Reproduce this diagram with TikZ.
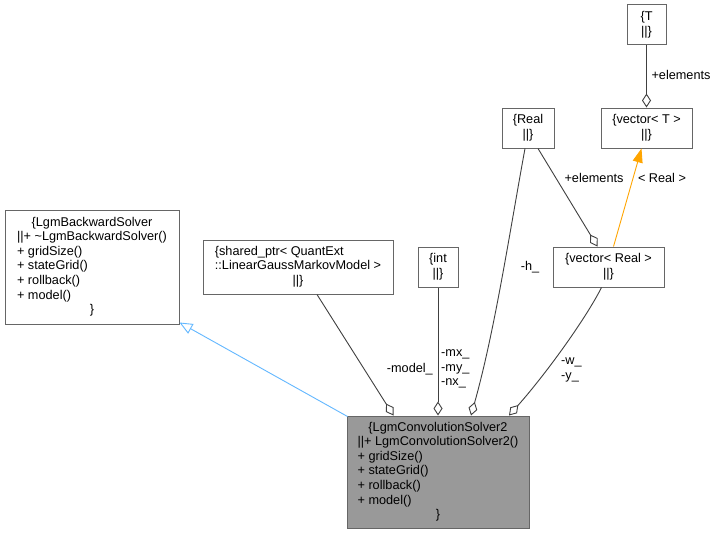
\documentclass[tikz,border=0pt]{standalone}
\usepackage{fontspec}
\setmainfont{Liberation Sans}
\usetikzlibrary{arrows.meta,calc}
\definecolor{boxline}{HTML}{666666}
\definecolor{edgeline}{HTML}{404040}
\definecolor{inhblue}{HTML}{63B8FF}
\definecolor{orangeedge}{HTML}{FFA500}
\definecolor{convfill}{HTML}{999999}
\tikzset{
  cls/.style={draw=boxline, line width=1pt, inner sep=0pt, align=center,
    font=\fontsize{12.7}{14.6}\selectfont},
  lbl/.style={inner sep=0pt, font=\fontsize{12.7}{14.6}\selectfont},
  assoc/.style={draw=edgeline, line width=0.9pt,
    -{Diamond[open,length=14pt,width=9pt,line width=0.9pt]}},
  inherit/.style={draw=inhblue, line width=0.9pt,
    -{Triangle[open,length=13pt,width=11pt,line width=0.9pt]}},
  tmpl/.style={draw=orangeedge, line width=0.9pt,
    -{Triangle[length=14pt,width=10pt]}},
}
\begin{document}
\begin{tikzpicture}[x=1pt,y=-1pt]
\useasboundingbox (0,0) rectangle (717,535);
\fill[white] (0,0) rectangle (717,535);

\node[cls, minimum width=174pt, minimum height=114pt] (back) at (92,267)
  {\begin{tabular}{@{}l@{}}\multicolumn{1}{@{}c@{}}{\{LgmBackwardSolver}\\
  {|}{|}+ \textasciitilde LgmBackwardSolver()\\ + gridSize()\\ + stateGrid()\\
  + rollback()\\ + model()\\ \multicolumn{1}{@{}c@{}}{\}}\end{tabular}};

\node[cls, minimum width=190pt, minimum height=54pt] (shared) at (298,267)
  {\begin{tabular}{@{}l@{}}\{shared\_ptr< QuantExt\\
  ::LinearGaussMarkovModel >\\ \multicolumn{1}{@{}c@{}}{{|}{|}\}}\end{tabular}};

\node[cls, minimum width=40pt, minimum height=40pt] (int) at (438,267)
  {\{int\\{|}{|}\}};

\node[cls, fill=convfill, minimum width=182pt, minimum height=112pt] (conv) at (438,472)
  {\begin{tabular}{@{}l@{}}\multicolumn{1}{@{}c@{}}{\{LgmConvolutionSolver2}\\
  {|}{|}+ LgmConvolutionSolver2()\\ + gridSize()\\ + stateGrid()\\
  + rollback()\\ + model()\\ \multicolumn{1}{@{}c@{}}{\}}\end{tabular}};

\node[cls, minimum width=52pt, minimum height=40pt] (real) at (528,128)
  {\{Real\\{|}{|}\}};

\node[cls, minimum width=91pt, minimum height=40pt] (vecT) at (646.5,128)
  {\{vector< T >\\{|}{|}\}};

\node[cls, minimum width=39pt, minimum height=40pt] (T) at (646.5,25)
  {\{T\\{|}{|}\}};

\node[cls, minimum width=111pt, minimum height=40pt] (vecR) at (608.5,267)
  {\{vector< Real >\\{|}{|}\}};

% inheritance
\draw[inherit] ($(conv.north west)+(1,1)$) -- ($(back.south east)+(0,-2)$);

% associations into conv
\draw[assoc] ($(shared.south)+(19,0)$) -- ($(conv.north west)+(47,0)$);
\draw[assoc] (int.south) -- ($(conv.north)+(0,0)$);
\draw[assoc] ($(real.south)+(-3,0)$) .. controls (510,230) and (495,330) .. ($(conv.north)+(33,0)$);
\draw[assoc] ($(vecR.south)+(-7,0)$) .. controls (585,320) and (545,375) .. ($(conv.north)+(71,0)$);

% vector relations
\draw[assoc] ($(real.south)+(10,0)$) -- ($(vecR.north)+(-11,0)$);
\draw[assoc] (T.south) -- (vecT.north);
\draw[tmpl] ($(vecR.north)+(5,0)$) -- ($(vecT.south)+(-5,0)$);

% labels
\node[lbl, anchor=east] (lmodel) at (433,369) {-model\_};
\node[lbl, anchor=west, align=left] (lmx) at (441,369) {-mx\_\\-my\_\\-nx\_};
\node[lbl] (lh) at (530,267) {-h\_};
\node[lbl] (lel1) at (594,178) {+elements};
\node[lbl] (lreal) at (662,178) {< Real >};
\node[lbl] (lel2) at (681,75) {+elements};
\node[lbl, anchor=west, align=left] (lwy) at (561,370) {-w\_\\-y\_};
\end{tikzpicture}
\end{document}
